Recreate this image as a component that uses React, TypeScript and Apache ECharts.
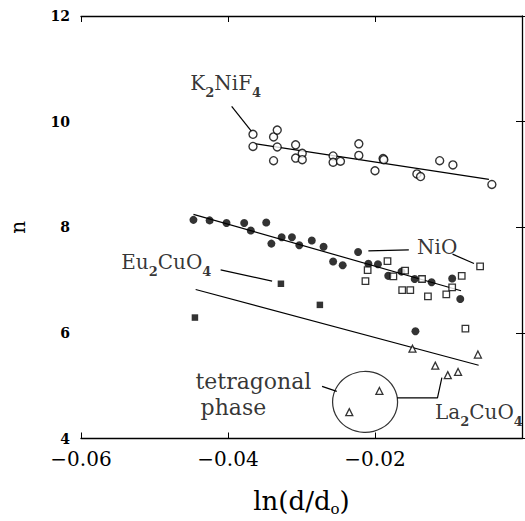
import React, { useEffect, useRef } from "react";
import * as echarts from "echarts";

// ---- data (x = ln(d/d0), y = n) ----
const k2nif4Points: number[][] = [
  [-0.0366, 9.76], [-0.0366, 9.53], [-0.0338, 9.71], [-0.0333, 9.84], [-0.0333, 9.52],
  [-0.0338, 9.26], [-0.0308, 9.56], [-0.0308, 9.31], [-0.0299, 9.40], [-0.0299, 9.28],
  [-0.0257, 9.35], [-0.0257, 9.23], [-0.0247, 9.25], [-0.0222, 9.58], [-0.0222, 9.36],
  [-0.0200, 9.07], [-0.0189, 9.30], [-0.0188, 9.28], [-0.0143, 9.01], [-0.0138, 8.96],
  [-0.0112, 9.26], [-0.0094, 9.18], [-0.0041, 8.81],
];
const nioFilled: number[][] = [
  [-0.0447, 8.14], [-0.0425, 8.13], [-0.0402, 8.08], [-0.0378, 8.08], [-0.0369, 7.94],
  [-0.0348, 8.09], [-0.0341, 7.69], [-0.0327, 7.81], [-0.0313, 7.81], [-0.0303, 7.66],
  [-0.0286, 7.75], [-0.0270, 7.63], [-0.0257, 7.35], [-0.0244, 7.28], [-0.0223, 7.53],
  [-0.0209, 7.31], [-0.0196, 7.30], [-0.0182, 7.08], [-0.0164, 7.16], [-0.0146, 7.02],
  [-0.0123, 6.96], [-0.0095, 7.03], [-0.0084, 6.64], [-0.0145, 6.03],
];
const nioOpenSquares: number[][] = [
  [-0.0183, 7.36], [-0.0210, 7.19], [-0.0213, 6.98], [-0.0175, 7.07], [-0.0159, 7.18],
  [-0.0136, 7.02], [-0.0163, 6.81], [-0.0152, 6.81], [-0.0128, 6.69], [-0.0103, 6.73],
  [-0.0095, 6.86], [-0.0082, 7.08], [-0.0057, 7.26], [-0.0077, 6.08],
];
const eu2cuo4Points: number[][] = [
  [-0.0328, 6.93], [-0.0275, 6.53], [-0.0445, 6.29],
];
const la2cuo4Points: number[][] = [
  [-0.0149, 5.70], [-0.0118, 5.38], [-0.0101, 5.20], [-0.0087, 5.26], [-0.0060, 5.59],
  [-0.0194, 4.90], [-0.0235, 4.50],
];
const fitK2NiF4: number[][] = [[-0.0364, 9.585], [-0.0045, 8.906]];
const fitNiO: number[][] = [[-0.0447, 8.245], [-0.0083, 6.798]];
const fitLower: number[][] = [[-0.0444, 6.821], [-0.0059, 5.387]];

// leader lines (annotation connectors)
const leaderK: number[][] = [[-0.0395, 10.29], [-0.0368, 9.817]];
const leaderNiO1: number[][] = [[-0.0209, 7.553], [-0.0154, 7.572]];
const leaderNiO2: number[][] = [[-0.00945, 7.491], [-0.00653, 7.315]];
const leaderEu: number[][] = [[-0.0410, 7.194], [-0.0340, 6.981]];
const leaderTetra: number[][] = [[-0.0272, 4.987], [-0.0252, 4.892]];
const leaderLa: number[][] = [[-0.0170, 4.768], [-0.0115, 4.768], [-0.0109, 5.151]];
const phaseCircleCenter: number[] = [-0.02135, 4.692];

// annotation texts: [x, y, text]
const annotations: [number, number, string][] = [
  [-0.0452, 10.736, "K{s|2}NiF{s|4}"],
  [-0.01434, 7.623, "NiO"],
  [-0.0546, 7.34, "Eu{s|2}CuO{s|4}"],
  [-0.0445, 5.075, "tetragonal"],
  [-0.0438, 4.585, "phase"],
  [-0.0119, 4.509, "La{s|2}CuO{s|4}"],
];

const xTicks = [-0.06, -0.04, -0.02, 0];
const yTicks = [4, 6, 8, 10, 12];

const FONT = "DejaVu Serif";
const INK = "#000";

export default function App() {
  const ref = useRef<HTMLDivElement>(null);
  useEffect(() => {
    document.body.style.margin = "0";
    const chart = echarts.init(ref.current!, undefined, { renderer: "svg" });
    const lineSeries = (data: number[][]) => ({
      type: "line",
      data,
      symbol: "none",
      silent: true,
      lineStyle: { color: INK, width: 1.2 },
      z: 2,
    });
    const subRich = {
      m: { fontSize: 20, lineHeight: 28, fontFamily: FONT, color: INK },
      s: {
        fontSize: 13,
        fontWeight: "bold",
        lineHeight: 14,
        padding: [19, 0, 0, 0],
        fontFamily: FONT,
        color: INK,
      },
    };
    const option: any = {
      animation: false,
      backgroundColor: "#fff",
      grid: { left: 78, right: 1, top: 16, bottom: 81, containLabel: false },
      xAxis: [
        {
          type: "value",
          min: xTicks[0],
          max: xTicks[xTicks.length - 1],
          interval: 0.02,
          position: "bottom",
          name: "{m|ln(d/d}{s|o}{m|)}",
          nameLocation: "middle",
          nameGap: 47,
          nameTextStyle: {
            rich: {
              m: { fontSize: 26, lineHeight: 30, fontFamily: FONT, color: INK },
              s: { fontSize: 15, lineHeight: 14, padding: [16, 0, 0, 0], fontFamily: FONT, color: INK },
            },
          },
          axisLine: { show: true, lineStyle: { color: INK, width: 1.3 } },
          axisTick: { show: true, inside: true, length: 6, lineStyle: { color: INK } },
          splitLine: { show: false },
          axisLabel: {
            margin: 10,
            fontSize: 20,
            fontFamily: FONT,
            color: INK,
            formatter: (v: number) => (v === 0 ? "" : "\u2212" + Math.abs(v).toFixed(2)),
          },
        },
        {
          type: "value",
          min: xTicks[0],
          max: xTicks[xTicks.length - 1],
          interval: 0.02,
          position: "top",
          axisLine: { show: true, lineStyle: { color: INK, width: 1.3 } },
          axisTick: { show: true, inside: true, length: 6, lineStyle: { color: INK } },
          axisLabel: { show: false },
          splitLine: { show: false },
        },
      ],
      yAxis: [
        {
          type: "value",
          min: yTicks[0],
          max: yTicks[yTicks.length - 1],
          interval: 2,
          position: "left",
          name: "n",
          nameLocation: "middle",
          nameRotate: 90,
          nameGap: 53,
          nameTextStyle: { fontSize: 20, fontFamily: FONT, color: INK },
          axisLine: { show: true, lineStyle: { color: INK, width: 1.3 } },
          axisTick: { show: true, inside: true, length: 7, lineStyle: { color: INK } },
          splitLine: { show: false },
          axisLabel: {
            margin: 11,
            fontSize: 14,
            fontWeight: "bold",
            fontFamily: FONT,
            color: INK,
          },
        },
        {
          type: "value",
          min: yTicks[0],
          max: yTicks[yTicks.length - 1],
          interval: 2,
          position: "right",
          axisLine: { show: false },
          axisTick: { show: true, inside: true, length: 6, lineStyle: { color: INK } },
          axisLabel: { show: false },
          splitLine: { show: false },
        },
      ],
      series: [
        {
          type: "scatter",
          data: k2nif4Points,
          symbol: "circle",
          symbolSize: 8,
          itemStyle: { color: "#fff", borderColor: INK, borderWidth: 1.4 },
          z: 3,
        },
        {
          type: "scatter",
          data: nioFilled,
          symbol: "circle",
          symbolSize: 8,
          itemStyle: { color: INK },
          z: 3,
        },
        {
          type: "scatter",
          data: nioOpenSquares,
          symbol: "rect",
          symbolSize: 6.5,
          itemStyle: { color: "#fff", borderColor: INK, borderWidth: 1.3 },
          z: 3,
        },
        {
          type: "scatter",
          data: eu2cuo4Points,
          symbol: "rect",
          symbolSize: 6.5,
          itemStyle: { color: INK },
          z: 3,
        },
        {
          type: "scatter",
          data: la2cuo4Points,
          symbol: "triangle",
          symbolSize: 7,
          itemStyle: { color: "#fff", borderColor: INK, borderWidth: 1.3 },
          z: 3,
        },
        {
          type: "scatter",
          data: [phaseCircleCenter],
          symbol: "circle",
          symbolSize: [65, 61],
          silent: true,
          itemStyle: { color: "rgba(0,0,0,0)", borderColor: INK, borderWidth: 1.2 },
          z: 2,
        },
        lineSeries(fitK2NiF4),
        lineSeries(fitNiO),
        lineSeries(fitLower),
        lineSeries(leaderK),
        lineSeries(leaderNiO1),
        lineSeries(leaderNiO2),
        lineSeries(leaderEu),
        lineSeries(leaderTetra),
        lineSeries(leaderLa),
        {
          type: "scatter",
          symbolSize: 1,
          silent: true,
          itemStyle: { color: "rgba(0,0,0,0)" },
          z: 4,
          data: annotations.map(([x, y, t]) => {
            const big = t === "tetragonal" || t === "phase";
            const txt = t.includes("{s|")
              ? t.replace(/([^{}|]+)(?=\{s\||$)/g, (m) => (m ? "{m|" + m + "}" : m))
              : "{m|" + t + "}";
            return {
              value: [x, y],
              label: {
                show: true,
                position: "right",
                distance: 0,
                formatter: txt,
                rich: big
                  ? { m: { ...subRich.m, fontSize: 22 } }
                  : subRich,
              },
            };
          }),
        },
      ],
    };
    chart.setOption(option);
    return () => chart.dispose();
  }, []);
  return <div ref={ref} style={{ width: 525, height: 521 }} />;
}
